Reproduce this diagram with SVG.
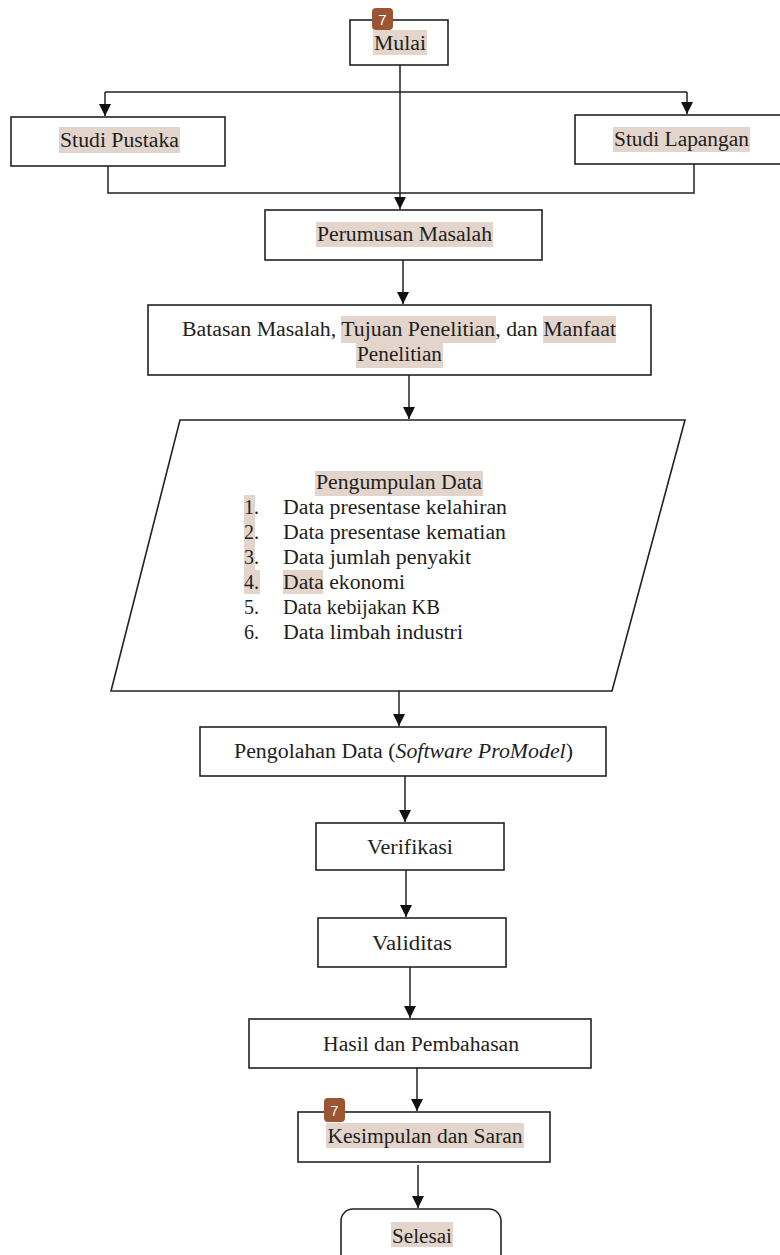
<svg xmlns="http://www.w3.org/2000/svg" width="780" height="1255" viewBox="0 0 780 1255">
<defs>
<marker id="ah" viewBox="0 0 10 10" refX="10" refY="5" markerWidth="12" markerHeight="12" markerUnits="userSpaceOnUse" orient="auto">
<path d="M0,0 L10,5 L0,10 Z" fill="#111"/>
</marker>
<style>
.box{fill:#fff;stroke:#222;stroke-width:1.6}
.ln{fill:none;stroke:#222;stroke-width:1.5}
.t{font-family:"Liberation Serif","Times New Roman",serif;font-size:20px;fill:#1e1e1e}
.c{text-anchor:middle}
.hl{fill:#e3d5cb}
.bd{fill:#9b5533}
.bt{font-family:"Liberation Sans",Arial,sans-serif;font-size:15px;fill:#fff;text-anchor:middle}
</style>
</defs>
<rect width="780" height="1255" fill="#fff"/>

<g id="connectors">
<path class="ln" d="M400,65 V209" marker-end="url(#ah)"/>
<path class="ln" d="M105,92 H687"/>
<path class="ln" d="M105,92 V116" marker-end="url(#ah)"/>
<path class="ln" d="M687,92 V114" marker-end="url(#ah)"/>
<path class="ln" d="M108,166 V193 H694 V164"/>
<path class="ln" d="M403,260 V304" marker-end="url(#ah)"/>
<path class="ln" d="M409,375 V419" marker-end="url(#ah)"/>
<path class="ln" d="M399,691 V726" marker-end="url(#ah)"/>
<path class="ln" d="M405,776 V822" marker-end="url(#ah)"/>
<path class="ln" d="M406,870 V917" marker-end="url(#ah)"/>
<path class="ln" d="M410,967 V1018" marker-end="url(#ah)"/>
<path class="ln" d="M417,1068 V1111" marker-end="url(#ah)"/>
<path class="ln" d="M418,1165 V1208" marker-end="url(#ah)"/>
</g>

<g id="mulai">
<rect class="box" x="350" y="20" width="98" height="45"/>
<rect class="hl" x="373" y="30" width="54" height="25"/>
<text class="t c" x="400" y="50" textLength="52" lengthAdjust="spacingAndGlyphs">Mulai</text>
<rect class="bd" x="372" y="8" width="21" height="22" rx="4"/>
<text class="bt" x="382.5" y="25">7</text>
</g>

<g id="studi-pustaka">
<rect class="box" x="11" y="117" width="214" height="49"/>
<rect class="hl" x="59" y="127" width="121" height="26"/>
<text class="t c" x="119.5" y="147" textLength="119" lengthAdjust="spacingAndGlyphs">Studi Pustaka</text>
</g>

<g id="studi-lapangan">
<rect class="box" x="575" y="115" width="210" height="49"/>
<rect class="hl" x="613" y="127" width="137" height="25"/>
<text class="t c" x="681.5" y="146" textLength="135" lengthAdjust="spacingAndGlyphs">Studi Lapangan</text>
</g>

<g id="perumusan">
<rect class="box" x="265" y="210" width="277" height="50"/>
<rect class="hl" x="316" y="222" width="177" height="25"/>
<text class="t c" x="404.5" y="241" textLength="175" lengthAdjust="spacingAndGlyphs">Perumusan Masalah</text>
</g>

<g id="batasan">
<rect class="box" x="148" y="305" width="503" height="70"/>
<rect class="hl" x="341" y="316" width="155" height="27"/>
<rect class="hl" x="543" y="316" width="73" height="27"/>
<rect class="hl" x="356" y="343" width="87" height="25"/>
<text class="t" x="182" y="336" textLength="434" lengthAdjust="spacingAndGlyphs">Batasan Masalah, Tujuan Penelitian, dan Manfaat</text>
<text class="t c" x="399.5" y="361" textLength="85" lengthAdjust="spacingAndGlyphs">Penelitian</text>
</g>

<g id="pengumpulan">
<polygon class="box" points="180,420 685,420 612,691 111,691"/>
<rect class="hl" x="315" y="471" width="168" height="25"/>
<rect class="hl" x="244" y="495" width="11" height="25"/>
<rect class="hl" x="244" y="520" width="11" height="25"/>
<rect class="hl" x="244" y="545" width="11" height="25"/>
<rect class="hl" x="244" y="570" width="16" height="24"/>
<rect class="hl" x="283" y="570" width="40" height="24"/>
<text class="t c" x="399" y="489" textLength="166" lengthAdjust="spacingAndGlyphs">Pengumpulan Data</text>
<text class="t" x="244" y="514">1.</text><text class="t" x="283" y="514" textLength="224" lengthAdjust="spacingAndGlyphs">Data presentase kelahiran</text>
<text class="t" x="244" y="539">2.</text><text class="t" x="283" y="539" textLength="223" lengthAdjust="spacingAndGlyphs">Data presentase kematian</text>
<text class="t" x="244" y="564">3.</text><text class="t" x="283" y="564" textLength="188" lengthAdjust="spacingAndGlyphs">Data jumlah penyakit</text>
<text class="t" x="244" y="589">4.</text><text class="t" x="283" y="589" textLength="122" lengthAdjust="spacingAndGlyphs">Data ekonomi</text>
<text class="t" x="244" y="614">5.</text><text class="t" x="283" y="614" textLength="157" lengthAdjust="spacingAndGlyphs">Data kebijakan KB</text>
<text class="t" x="244" y="639">6.</text><text class="t" x="283" y="639" textLength="180" lengthAdjust="spacingAndGlyphs">Data limbah industri</text>
</g>

<g id="pengolahan">
<rect class="box" x="200" y="727" width="406" height="49"/>
<text class="t" x="234" y="758" textLength="339" lengthAdjust="spacingAndGlyphs">Pengolahan Data (<tspan font-style="italic">Software ProModel</tspan>)</text>
</g>

<g id="verifikasi">
<rect class="box" x="316" y="823" width="188" height="47"/>
<text class="t c" x="410" y="854" textLength="86" lengthAdjust="spacingAndGlyphs">Verifikasi</text>
</g>

<g id="validitas">
<rect class="box" x="318" y="918" width="188" height="49"/>
<text class="t c" x="412" y="950" textLength="80" lengthAdjust="spacingAndGlyphs">Validitas</text>
</g>

<g id="hasil">
<rect class="box" x="249" y="1019" width="342" height="49"/>
<text class="t c" x="421" y="1051" textLength="196" lengthAdjust="spacingAndGlyphs">Hasil dan Pembahasan</text>
</g>

<g id="kesimpulan">
<rect class="box" x="298" y="1112" width="252" height="50"/>
<rect class="hl" x="326" y="1123" width="198" height="25"/>
<text class="t c" x="425" y="1143" textLength="195" lengthAdjust="spacingAndGlyphs">Kesimpulan dan Saran</text>
<rect class="bd" x="324" y="1098" width="21" height="24" rx="4"/>
<text class="bt" x="334.5" y="1116">7</text>
</g>

<g id="selesai">
<rect class="box" x="341" y="1209" width="160" height="70" rx="12"/>
<rect class="hl" x="391" y="1222" width="62" height="25"/>
<text class="t c" x="422" y="1243" textLength="60" lengthAdjust="spacingAndGlyphs">Selesai</text>
</g>
</svg>
